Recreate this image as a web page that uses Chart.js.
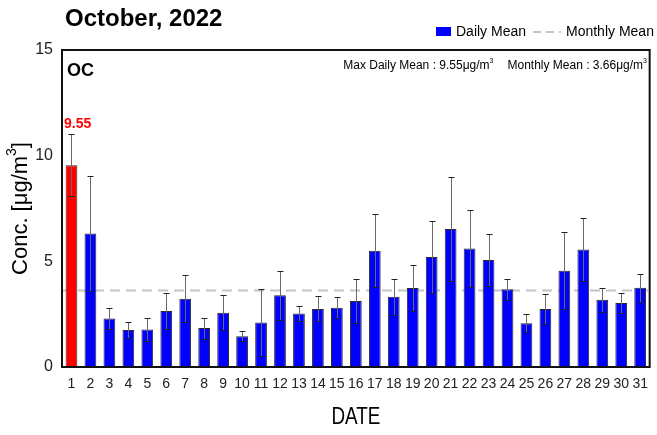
<!DOCTYPE html>
<html><head><meta charset="utf-8">
<script src="https://cdn.jsdelivr.net/npm/chart.js@4.4.0/dist/chart.umd.min.js"></script>
<style>html,body{margin:0;padding:0;background:#fff}</style>
</head><body>
<canvas id="c" width="657" height="435"></canvas>
<script>
const dates = ['1','2','3','4','5','6','7','8','9','10','11','12','13','14','15','16','17','18','19','20','21','22','23','24','25','26','27','28','29','30','31'];
const dailyMean = [9.55, 6.32, 2.29, 1.75, 1.78, 2.65, 3.23, 1.84, 2.57, 1.46, 2.10, 3.39, 2.53, 2.75, 2.80, 3.12, 5.50, 3.33, 3.74, 5.21, 6.53, 5.61, 5.06, 3.68, 2.07, 2.75, 4.56, 5.56, 3.18, 3.03, 3.75];
const dailyStd = [1.46, 2.72, 0.48, 0.40, 0.54, 0.86, 1.11, 0.50, 0.82, 0.22, 1.59, 1.16, 0.35, 0.59, 0.50, 1.03, 1.73, 0.85, 1.11, 1.71, 2.47, 1.84, 1.21, 0.50, 0.43, 0.71, 1.81, 1.47, 0.57, 0.46, 0.67];
const monthlyMean = 3.66;
const maxDailyMean = 9.55;
const yTicks = [0, 5, 10, 15];
const chartTitle = 'October, 2022';
const speciesLabel = 'OC';

const SANS = '"Liberation Sans", Arial, sans-serif';

function supText(ctx, parts, x, y, size, family, weight) {
  let cx = x;
  for (const p of parts) {
    const s = p.sup ? Math.round(size * 0.62) : size;
    ctx.font = (weight || '') + ' ' + s + 'px ' + family;
    ctx.textBaseline = 'middle';
    ctx.fillText(p.t, cx, p.sup ? y - size * 0.38 : y);
    cx += ctx.measureText(p.t).width;
  }
  return cx - x;
}
function supWidth(ctx, parts, size, family, weight) {
  let w = 0;
  for (const p of parts) {
    const s = p.sup ? Math.round(size * 0.62) : size;
    ctx.font = (weight || '') + ' ' + s + 'px ' + family;
    w += ctx.measureText(p.t).width;
  }
  return w;
}

const deco = {
  id: 'deco',
  beforeDatasetsDraw(chart) {
    const {ctx, chartArea: a, scales: {y}} = chart;
    const py = Math.round(y.getPixelForValue(monthlyMean)) + 0.5;
    ctx.save();
    ctx.strokeStyle = '#c4c4c4';
    ctx.lineWidth = 2;
    ctx.setLineDash([10, 6]);
    ctx.beginPath(); ctx.moveTo(a.left, py); ctx.lineTo(a.right, py); ctx.stroke();
    ctx.restore();
  },
  afterDatasetsDraw(chart) {
    const {ctx, scales: {y}} = chart;
    const meta = chart.getDatasetMeta(0);
    ctx.save();
    meta.data.forEach((bar, i) => {
      const x = Math.round(bar.x) + 0.5;
      const t = Math.round(y.getPixelForValue(dailyMean[i] + dailyStd[i])) + 0.5;
      const b = Math.round(y.getPixelForValue(dailyMean[i] - dailyStd[i])) + 0.5;
      ctx.strokeStyle = '#6a6a6a'; ctx.lineWidth = 1;
      ctx.beginPath(); ctx.moveTo(x, t); ctx.lineTo(x, b); ctx.stroke();
      ctx.strokeStyle = '#222';
      ctx.beginPath(); ctx.moveTo(x - 3, t); ctx.lineTo(x + 3, t); ctx.moveTo(x - 3, b); ctx.lineTo(x + 3, b); ctx.stroke();
      if (dailyMean[i] === maxDailyMean) {
        ctx.fillStyle = '#ff0000';
        ctx.font = 'bold 14px ' + SANS;
        ctx.textBaseline = 'bottom'; ctx.textAlign = 'left';
        ctx.fillText(maxDailyMean.toFixed(2), bar.x - 7.5, t - 3);
      }
    });
    ctx.restore();
  },
  afterDraw(chart) {
    const {ctx, chartArea: a} = chart;
    ctx.save();
    ctx.strokeStyle = '#111'; ctx.lineWidth = 2;
    ctx.strokeRect(a.left, a.top, a.right - a.left, a.bottom - a.top);
    ctx.fillStyle = '#000'; ctx.textAlign = 'left';
    ctx.font = 'bold 24px ' + SANS; ctx.textBaseline = 'middle';
    ctx.fillText(chartTitle, 65, 19);
    ctx.font = 'bold 18px ' + SANS;
    ctx.fillText(speciesLabel, 67, 71);
    // legend
    ctx.fillStyle = '#0000ff';
    ctx.fillRect(436, 27, 15, 9);
    ctx.fillStyle = '#000';
    ctx.font = '14px ' + SANS;
    ctx.fillText('Daily Mean', 456, 32);
    ctx.strokeStyle = '#c4c4c4'; ctx.lineWidth = 2; ctx.setLineDash([8, 5]);
    ctx.beginPath(); ctx.moveTo(533, 32); ctx.lineTo(561, 32); ctx.stroke();
    ctx.setLineDash([]);
    ctx.fillText('Monthly Mean', 566, 32);
    // stats annotation
    const p1 = [{t: 'Max Daily Mean : ' + maxDailyMean.toFixed(2) + 'μg/m'}, {t: '3', sup: true}];
    const p2 = [{t: 'Monthly Mean : ' + monthlyMean.toFixed(2) + 'μg/m'}, {t: '3', sup: true}];
    const w2 = supWidth(ctx, p2, 12, SANS);
    const w1 = supWidth(ctx, p1, 12, SANS);
    const endX = 647;
    supText(ctx, p2, endX - w2, 66, 12, SANS);
    supText(ctx, p1, endX - w2 - 14 - w1, 66, 12, SANS);
    // y title
    const yp = [{t: 'Conc. [μg/m'}, {t: '3', sup: true}, {t: ']'}];
    ctx.translate(21, (a.top + a.bottom) / 2);
    ctx.rotate(-Math.PI / 2);
    const wy = supWidth(ctx, yp, 22, SANS);
    supText(ctx, yp, -wy / 2, 0, 22, SANS);
    ctx.setTransform(1, 0, 0, 1, 0, 0);
    // x title (condensed)
    ctx.translate((a.left + a.right) / 2, 418);
    ctx.scale(0.82, 1);
    ctx.font = '23px ' + SANS; ctx.textAlign = 'center';
    ctx.fillText('DATE', 0, 0);
    ctx.restore();
  }
};

new Chart(document.getElementById('c'), {
  type: 'bar',
  data: {
    labels: dates,
    datasets: [{
      label: 'Daily Mean',
      data: dailyMean,
      backgroundColor: dailyMean.map(v => v === maxDailyMean ? '#ff0000' : '#0000ff'),
      borderColor: '#2a2a2a',
      borderWidth: 1,
      barPercentage: 0.62,
      categoryPercentage: 1
    }]
  },
  options: {
    responsive: false,
    animation: false,
    layout: {padding: {top: 50, right: 2, left: 0, bottom: 0}},
    plugins: {legend: {display: false}, tooltip: {enabled: false}},
    scales: {
      x: {
        grid: {display: false, drawTicks: false},
        border: {display: false},
        ticks: {font: {family: SANS, size: 14}, color: '#222', padding: 9, maxRotation: 0, autoSkip: false},
        afterFit(s) { s.height = 68; }
      },
      y: {
        min: 0, max: 15,
        afterBuildTicks(s) { s.ticks = yTicks.map(v => ({value: v})); },
        grid: {display: false, drawTicks: false},
        border: {display: false},
        ticks: {font: {family: SANS, size: 16}, color: '#222', padding: 9},
        afterFit(s) { s.width = 62; }
      }
    }
  },
  plugins: [deco]
});
</script>
</body></html>
